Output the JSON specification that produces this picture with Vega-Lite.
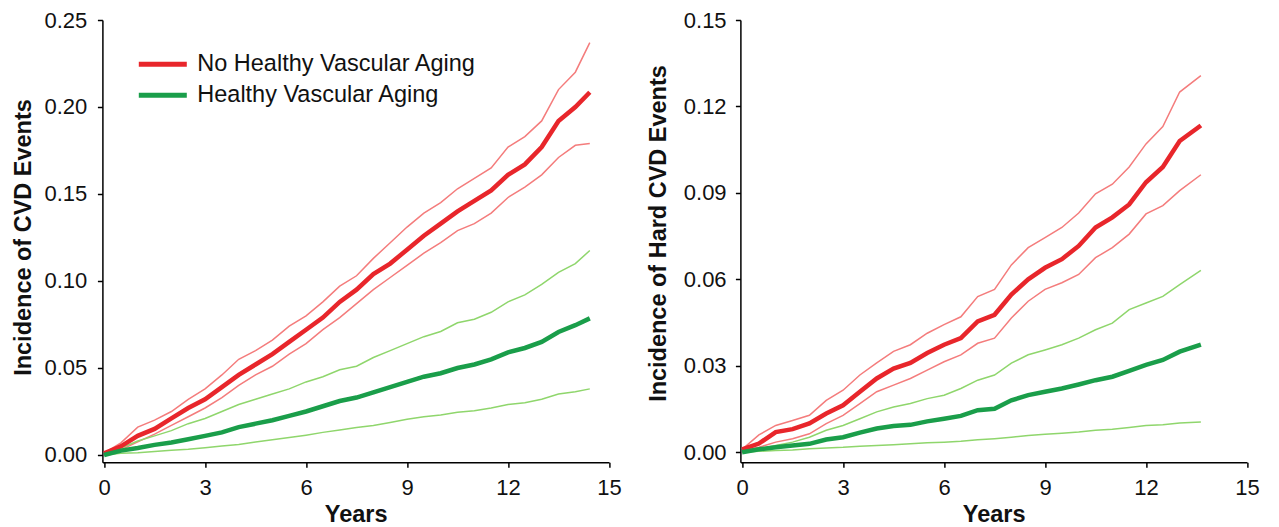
{
  "$schema": "https://vega.github.io/schema/vega-lite/v6.json",
  "autosize": {"type": "pad"},
  "padding": {"left": 11.4, "top": 9, "right": 5, "bottom": 0},
  "background": "white",
  "bounds": "flush",
  "spacing": 131,
  "config": {
    "view": {"stroke": null},
    "font": "Liberation Sans",
    "axis": {
      "grid": false, "domainColor": "#000", "domainWidth": 1.5, "tickColor": "#000", "tickWidth": 1.5, "tickSize": 5,
      "labelFont": "Liberation Sans", "labelFontSize": 22, "labelColor": "#111", "labelFlush": false,
      "titleFont": "Liberation Sans", "titleFontSize": 23.5, "titleFontWeight": "bold", "titleColor": "#111"
    }
  },
  "resolve": {"scale": {"color": "independent"}, "legend": {"color": "independent"}},
  "datasets": {
    "cvd": [
      {"g": "No Healthy Vascular Aging", "t": 0, "lo": 0.000, "est": 0.001, "hi": 0.001},
      {"g": "No Healthy Vascular Aging", "t": 0.5, "lo": 0.003, "est": 0.005, "hi": 0.007},
      {"g": "No Healthy Vascular Aging", "t": 1, "lo": 0.0075, "est": 0.011, "hi": 0.016},
      {"g": "No Healthy Vascular Aging", "t": 1.5, "lo": 0.012, "est": 0.015, "hi": 0.020},
      {"g": "No Healthy Vascular Aging", "t": 2, "lo": 0.017, "est": 0.021, "hi": 0.025},
      {"g": "No Healthy Vascular Aging", "t": 2.5, "lo": 0.022, "est": 0.027, "hi": 0.032},
      {"g": "No Healthy Vascular Aging", "t": 3, "lo": 0.027, "est": 0.032, "hi": 0.038},
      {"g": "No Healthy Vascular Aging", "t": 3.5, "lo": 0.033, "est": 0.039, "hi": 0.046},
      {"g": "No Healthy Vascular Aging", "t": 4, "lo": 0.040, "est": 0.046, "hi": 0.055},
      {"g": "No Healthy Vascular Aging", "t": 4.5, "lo": 0.046, "est": 0.052, "hi": 0.060},
      {"g": "No Healthy Vascular Aging", "t": 5, "lo": 0.051, "est": 0.058, "hi": 0.066},
      {"g": "No Healthy Vascular Aging", "t": 5.5, "lo": 0.058, "est": 0.065, "hi": 0.074},
      {"g": "No Healthy Vascular Aging", "t": 6, "lo": 0.064, "est": 0.072, "hi": 0.080},
      {"g": "No Healthy Vascular Aging", "t": 6.5, "lo": 0.072, "est": 0.079, "hi": 0.088},
      {"g": "No Healthy Vascular Aging", "t": 7, "lo": 0.079, "est": 0.088, "hi": 0.097},
      {"g": "No Healthy Vascular Aging", "t": 7.5, "lo": 0.087, "est": 0.095, "hi": 0.103},
      {"g": "No Healthy Vascular Aging", "t": 8, "lo": 0.095, "est": 0.104, "hi": 0.113},
      {"g": "No Healthy Vascular Aging", "t": 8.5, "lo": 0.102, "est": 0.110, "hi": 0.122},
      {"g": "No Healthy Vascular Aging", "t": 9, "lo": 0.109, "est": 0.118, "hi": 0.131},
      {"g": "No Healthy Vascular Aging", "t": 9.5, "lo": 0.116, "est": 0.126, "hi": 0.139},
      {"g": "No Healthy Vascular Aging", "t": 10, "lo": 0.122, "est": 0.133, "hi": 0.145},
      {"g": "No Healthy Vascular Aging", "t": 10.5, "lo": 0.129, "est": 0.140, "hi": 0.153},
      {"g": "No Healthy Vascular Aging", "t": 11, "lo": 0.133, "est": 0.146, "hi": 0.159},
      {"g": "No Healthy Vascular Aging", "t": 11.5, "lo": 0.139, "est": 0.152, "hi": 0.165},
      {"g": "No Healthy Vascular Aging", "t": 12, "lo": 0.148, "est": 0.161, "hi": 0.177},
      {"g": "No Healthy Vascular Aging", "t": 12.5, "lo": 0.154, "est": 0.167, "hi": 0.183},
      {"g": "No Healthy Vascular Aging", "t": 13, "lo": 0.161, "est": 0.177, "hi": 0.192},
      {"g": "No Healthy Vascular Aging", "t": 13.5, "lo": 0.171, "est": 0.192, "hi": 0.210},
      {"g": "No Healthy Vascular Aging", "t": 14, "lo": 0.178, "est": 0.200, "hi": 0.220},
      {"g": "No Healthy Vascular Aging", "t": 14.43, "lo": 0.179, "est": 0.2085, "hi": 0.237},
      {"g": "Healthy Vascular Aging", "t": 0, "lo": 0.000, "est": 0.000, "hi": 0.000},
      {"g": "Healthy Vascular Aging", "t": 0.5, "lo": 0.001, "est": 0.0025, "hi": 0.004},
      {"g": "Healthy Vascular Aging", "t": 1, "lo": 0.0013, "est": 0.004, "hi": 0.008},
      {"g": "Healthy Vascular Aging", "t": 1.5, "lo": 0.002, "est": 0.0058, "hi": 0.011},
      {"g": "Healthy Vascular Aging", "t": 2, "lo": 0.0027, "est": 0.0072, "hi": 0.014},
      {"g": "Healthy Vascular Aging", "t": 2.5, "lo": 0.0033, "est": 0.009, "hi": 0.018},
      {"g": "Healthy Vascular Aging", "t": 3, "lo": 0.0042, "est": 0.011, "hi": 0.021},
      {"g": "Healthy Vascular Aging", "t": 3.5, "lo": 0.0052, "est": 0.013, "hi": 0.025},
      {"g": "Healthy Vascular Aging", "t": 4, "lo": 0.006, "est": 0.016, "hi": 0.029},
      {"g": "Healthy Vascular Aging", "t": 4.5, "lo": 0.0075, "est": 0.018, "hi": 0.032},
      {"g": "Healthy Vascular Aging", "t": 5, "lo": 0.0087, "est": 0.020, "hi": 0.035},
      {"g": "Healthy Vascular Aging", "t": 5.5, "lo": 0.010, "est": 0.0225, "hi": 0.038},
      {"g": "Healthy Vascular Aging", "t": 6, "lo": 0.0114, "est": 0.025, "hi": 0.042},
      {"g": "Healthy Vascular Aging", "t": 6.5, "lo": 0.013, "est": 0.028, "hi": 0.045},
      {"g": "Healthy Vascular Aging", "t": 7, "lo": 0.0143, "est": 0.031, "hi": 0.049},
      {"g": "Healthy Vascular Aging", "t": 7.5, "lo": 0.0158, "est": 0.033, "hi": 0.051},
      {"g": "Healthy Vascular Aging", "t": 8, "lo": 0.017, "est": 0.036, "hi": 0.056},
      {"g": "Healthy Vascular Aging", "t": 8.5, "lo": 0.0187, "est": 0.039, "hi": 0.060},
      {"g": "Healthy Vascular Aging", "t": 9, "lo": 0.0206, "est": 0.042, "hi": 0.064},
      {"g": "Healthy Vascular Aging", "t": 9.5, "lo": 0.022, "est": 0.045, "hi": 0.068},
      {"g": "Healthy Vascular Aging", "t": 10, "lo": 0.023, "est": 0.047, "hi": 0.071},
      {"g": "Healthy Vascular Aging", "t": 10.5, "lo": 0.0245, "est": 0.050, "hi": 0.076},
      {"g": "Healthy Vascular Aging", "t": 11, "lo": 0.0254, "est": 0.052, "hi": 0.078},
      {"g": "Healthy Vascular Aging", "t": 11.5, "lo": 0.027, "est": 0.055, "hi": 0.082},
      {"g": "Healthy Vascular Aging", "t": 12, "lo": 0.029, "est": 0.059, "hi": 0.088},
      {"g": "Healthy Vascular Aging", "t": 12.5, "lo": 0.030, "est": 0.0615, "hi": 0.092},
      {"g": "Healthy Vascular Aging", "t": 13, "lo": 0.032, "est": 0.065, "hi": 0.098},
      {"g": "Healthy Vascular Aging", "t": 13.5, "lo": 0.035, "est": 0.0707, "hi": 0.105},
      {"g": "Healthy Vascular Aging", "t": 14, "lo": 0.0364, "est": 0.0746, "hi": 0.110},
      {"g": "Healthy Vascular Aging", "t": 14.43, "lo": 0.038, "est": 0.0785, "hi": 0.1175}
    ],
    "hard": [
      {"g": "No Healthy Vascular Aging", "t": 0, "lo": 0.0005, "est": 0.001, "hi": 0.001},
      {"g": "No Healthy Vascular Aging", "t": 0.5, "lo": 0.0017, "est": 0.003, "hi": 0.006},
      {"g": "No Healthy Vascular Aging", "t": 1, "lo": 0.0035, "est": 0.007, "hi": 0.0093},
      {"g": "No Healthy Vascular Aging", "t": 1.5, "lo": 0.0047, "est": 0.008, "hi": 0.011},
      {"g": "No Healthy Vascular Aging", "t": 2, "lo": 0.0064, "est": 0.010, "hi": 0.0128},
      {"g": "No Healthy Vascular Aging", "t": 2.5, "lo": 0.0099, "est": 0.0134, "hi": 0.018},
      {"g": "No Healthy Vascular Aging", "t": 3, "lo": 0.0128, "est": 0.0163, "hi": 0.0215},
      {"g": "No Healthy Vascular Aging", "t": 3.5, "lo": 0.0169, "est": 0.021, "hi": 0.0268},
      {"g": "No Healthy Vascular Aging", "t": 4, "lo": 0.021, "est": 0.0256, "hi": 0.031},
      {"g": "No Healthy Vascular Aging", "t": 4.5, "lo": 0.0233, "est": 0.029, "hi": 0.035},
      {"g": "No Healthy Vascular Aging", "t": 5, "lo": 0.0256, "est": 0.031, "hi": 0.0373},
      {"g": "No Healthy Vascular Aging", "t": 5.5, "lo": 0.0285, "est": 0.0344, "hi": 0.0413},
      {"g": "No Healthy Vascular Aging", "t": 6, "lo": 0.0314, "est": 0.0373, "hi": 0.0443},
      {"g": "No Healthy Vascular Aging", "t": 6.5, "lo": 0.0338, "est": 0.0396, "hi": 0.047},
      {"g": "No Healthy Vascular Aging", "t": 7, "lo": 0.0378, "est": 0.0454, "hi": 0.054},
      {"g": "No Healthy Vascular Aging", "t": 7.5, "lo": 0.0396, "est": 0.0477, "hi": 0.0565},
      {"g": "No Healthy Vascular Aging", "t": 8, "lo": 0.0466, "est": 0.0547, "hi": 0.065},
      {"g": "No Healthy Vascular Aging", "t": 8.5, "lo": 0.0524, "est": 0.060, "hi": 0.071},
      {"g": "No Healthy Vascular Aging", "t": 9, "lo": 0.0565, "est": 0.064, "hi": 0.0745},
      {"g": "No Healthy Vascular Aging", "t": 9.5, "lo": 0.0588, "est": 0.067, "hi": 0.078},
      {"g": "No Healthy Vascular Aging", "t": 10, "lo": 0.0617, "est": 0.0716, "hi": 0.083},
      {"g": "No Healthy Vascular Aging", "t": 10.5, "lo": 0.0675, "est": 0.078, "hi": 0.0897},
      {"g": "No Healthy Vascular Aging", "t": 11, "lo": 0.071, "est": 0.0815, "hi": 0.093},
      {"g": "No Healthy Vascular Aging", "t": 11.5, "lo": 0.0757, "est": 0.086, "hi": 0.099},
      {"g": "No Healthy Vascular Aging", "t": 12, "lo": 0.0827, "est": 0.0937, "hi": 0.107},
      {"g": "No Healthy Vascular Aging", "t": 12.5, "lo": 0.0856, "est": 0.099, "hi": 0.113},
      {"g": "No Healthy Vascular Aging", "t": 13, "lo": 0.0908, "est": 0.108, "hi": 0.125},
      {"g": "No Healthy Vascular Aging", "t": 13.63, "lo": 0.0963, "est": 0.1134, "hi": 0.1307},
      {"g": "Healthy Vascular Aging", "t": 0, "lo": 0.000, "est": 0.000, "hi": 0.000},
      {"g": "Healthy Vascular Aging", "t": 0.5, "lo": 0.0003, "est": 0.001, "hi": 0.0012},
      {"g": "Healthy Vascular Aging", "t": 1, "lo": 0.0006, "est": 0.0017, "hi": 0.0023},
      {"g": "Healthy Vascular Aging", "t": 1.5, "lo": 0.0008, "est": 0.0023, "hi": 0.0035},
      {"g": "Healthy Vascular Aging", "t": 2, "lo": 0.0012, "est": 0.0029, "hi": 0.0052},
      {"g": "Healthy Vascular Aging", "t": 2.5, "lo": 0.0015, "est": 0.0044, "hi": 0.0076},
      {"g": "Healthy Vascular Aging", "t": 3, "lo": 0.0017, "est": 0.0052, "hi": 0.0093},
      {"g": "Healthy Vascular Aging", "t": 3.5, "lo": 0.0021, "est": 0.0068, "hi": 0.0116},
      {"g": "Healthy Vascular Aging", "t": 4, "lo": 0.0023, "est": 0.0082, "hi": 0.014},
      {"g": "Healthy Vascular Aging", "t": 4.5, "lo": 0.0026, "est": 0.0091, "hi": 0.0157},
      {"g": "Healthy Vascular Aging", "t": 5, "lo": 0.0029, "est": 0.0095, "hi": 0.0169},
      {"g": "Healthy Vascular Aging", "t": 5.5, "lo": 0.0033, "est": 0.0107, "hi": 0.0186},
      {"g": "Healthy Vascular Aging", "t": 6, "lo": 0.0035, "est": 0.0116, "hi": 0.0198},
      {"g": "Healthy Vascular Aging", "t": 6.5, "lo": 0.0038, "est": 0.0126, "hi": 0.0221},
      {"g": "Healthy Vascular Aging", "t": 7, "lo": 0.0043, "est": 0.0146, "hi": 0.025},
      {"g": "Healthy Vascular Aging", "t": 7.5, "lo": 0.0047, "est": 0.0151, "hi": 0.0268},
      {"g": "Healthy Vascular Aging", "t": 8, "lo": 0.0052, "est": 0.018, "hi": 0.0309},
      {"g": "Healthy Vascular Aging", "t": 8.5, "lo": 0.0058, "est": 0.0198, "hi": 0.0338},
      {"g": "Healthy Vascular Aging", "t": 9, "lo": 0.0062, "est": 0.021, "hi": 0.0355},
      {"g": "Healthy Vascular Aging", "t": 9.5, "lo": 0.0066, "est": 0.0221, "hi": 0.0373},
      {"g": "Healthy Vascular Aging", "t": 10, "lo": 0.007, "est": 0.0235, "hi": 0.0396},
      {"g": "Healthy Vascular Aging", "t": 10.5, "lo": 0.0076, "est": 0.025, "hi": 0.0425},
      {"g": "Healthy Vascular Aging", "t": 11, "lo": 0.008, "est": 0.0262, "hi": 0.0448},
      {"g": "Healthy Vascular Aging", "t": 11.5, "lo": 0.0086, "est": 0.0282, "hi": 0.0495},
      {"g": "Healthy Vascular Aging", "t": 12, "lo": 0.0093, "est": 0.0303, "hi": 0.0518},
      {"g": "Healthy Vascular Aging", "t": 12.5, "lo": 0.0095, "est": 0.032, "hi": 0.0541},
      {"g": "Healthy Vascular Aging", "t": 13, "lo": 0.0101, "est": 0.0349, "hi": 0.0582},
      {"g": "Healthy Vascular Aging", "t": 13.63, "lo": 0.0105, "est": 0.0373, "hi": 0.0631}
    ]
  },
  "hconcat": [
    {
      "width": 506.6,
      "height": 442.3,
      "data": {"name": "cvd"},
      "transform": [{"fold": ["lo", "est", "hi"], "as": ["kind", "v"]}],
      "encoding": {
        "x": {"field": "t", "type": "quantitative", "scale": {"domain": [-0.05, 15], "nice": false, "zero": false},
              "axis": {"values": [0, 3, 6, 9, 12, 15], "title": "Years", "labelBaseline": "alphabetic", "labelPadding": 27.7, "titleBaseline": "alphabetic", "titleY": 59.5}},
        "y": {"field": "v", "type": "quantitative", "scale": {"domain": [-0.0042, 0.25], "nice": false, "zero": false},
              "axis": {"values": [0, 0.05, 0.1, 0.15, 0.2, 0.25], "format": ".2f", "title": "Incidence of CVD Events", "labelPadding": 10.7, "titleX": -66.8, "titleY": 217}}
      },
      "resolve": {"scale": {"color": "independent"}, "legend": {"color": "independent"}},
      "layer": [
        {
          "transform": [{"filter": "datum.kind !== 'est'"}],
          "mark": {"type": "line", "strokeWidth": 1.5},
          "encoding": {
            "color": {"field": "g", "type": "nominal", "scale": {"domain": ["No Healthy Vascular Aging", "Healthy Vascular Aging"], "range": ["#f47c7c", "#8fd66c"]}, "legend": null},
            "detail": {"field": "kind"}
          }
        },
        {
          "transform": [{"filter": "datum.kind === 'est'"}],
          "mark": {"type": "line", "strokeWidth": 4.5},
          "encoding": {
            "color": {"field": "g", "type": "nominal", "scale": {"domain": ["No Healthy Vascular Aging", "Healthy Vascular Aging"], "range": ["#e8262b", "#1a9e4a"]},
                      "legend": {"orient": "none", "legendX": 45.9, "legendY": 29.8, "title": null, "symbolType": "M-2,0H2", "symbolSize": 576, "symbolStrokeWidth": 5, "labelFontSize": 23.5, "labelFont": "Liberation Sans", "labelColor": "#111", "labelOffset": 20, "rowPadding": 5, "padding": 0, "labelLimit": 400}}
          }
        }
      ]
    },
    {
      "width": 506.6,
      "height": 442.3,
      "data": {"name": "hard"},
      "transform": [{"fold": ["lo", "est", "hi"], "as": ["kind", "v"]}],
      "encoding": {
        "x": {"field": "t", "type": "quantitative", "scale": {"domain": [-0.05, 15], "nice": false, "zero": false},
              "axis": {"values": [0, 3, 6, 9, 12, 15], "title": "Years", "labelBaseline": "alphabetic", "labelPadding": 27.7, "titleBaseline": "alphabetic", "titleY": 59.5}},
        "y": {"field": "v", "type": "quantitative", "scale": {"domain": [-0.0035, 0.15], "nice": false, "zero": false},
              "axis": {"values": [0, 0.03, 0.06, 0.09, 0.12, 0.15], "format": ".2f", "title": "Incidence of Hard CVD Events", "labelPadding": 9.3, "titleX": -69.4, "titleY": 213}}
      },
      "resolve": {"scale": {"color": "independent"}, "legend": {"color": "independent"}},
      "layer": [
        {
          "transform": [{"filter": "datum.kind !== 'est'"}],
          "mark": {"type": "line", "strokeWidth": 1.5},
          "encoding": {
            "color": {"field": "g", "type": "nominal", "scale": {"domain": ["No Healthy Vascular Aging", "Healthy Vascular Aging"], "range": ["#f47c7c", "#8fd66c"]}, "legend": null},
            "detail": {"field": "kind"}
          }
        },
        {
          "transform": [{"filter": "datum.kind === 'est'"}],
          "mark": {"type": "line", "strokeWidth": 4.5},
          "encoding": {
            "color": {"field": "g", "type": "nominal", "scale": {"domain": ["No Healthy Vascular Aging", "Healthy Vascular Aging"], "range": ["#e8262b", "#1a9e4a"]}, "legend": null}
          }
        }
      ]
    }
  ]
}
